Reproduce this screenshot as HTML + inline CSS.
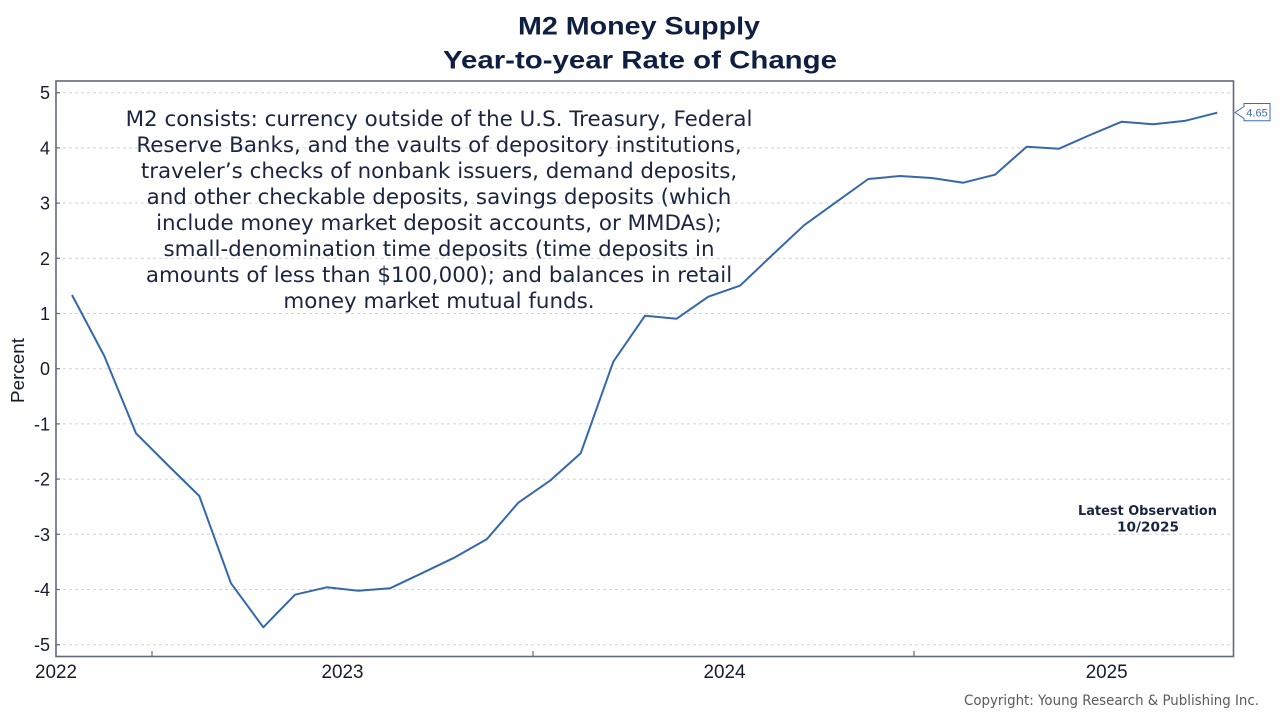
<!DOCTYPE html>
<html>
<head>
<meta charset="utf-8">
<style>
  html, body { margin: 0; padding: 0; background: #ffffff; }
  svg { display: block; }
</style>
</head>
<body>
<svg width="1280" height="720" viewBox="0 0 1280 720" xmlns="http://www.w3.org/2000/svg">
  <rect x="0" y="0" width="1280" height="720" fill="#ffffff"/>

  <!-- Title -->
  <g font-family="'Liberation Sans', Arial, sans-serif" font-weight="bold" fill="#0f1f42" text-anchor="middle">
    <text x="639" y="34.5" font-size="25" textLength="242" lengthAdjust="spacingAndGlyphs">M2 Money Supply</text>
    <text x="640" y="68.5" font-size="25" textLength="394" lengthAdjust="spacingAndGlyphs">Year-to-year Rate of Change</text>
  </g>

  <!-- Gridlines -->
  <g stroke="#d4d4d4" stroke-width="1" stroke-dasharray="3,3">
    <line x1="57" y1="92.7" x2="1233" y2="92.7"/>
    <line x1="57" y1="147.9" x2="1233" y2="147.9"/>
    <line x1="57" y1="203.1" x2="1233" y2="203.1"/>
    <line x1="57" y1="258.3" x2="1233" y2="258.3"/>
    <line x1="57" y1="313.5" x2="1233" y2="313.5"/>
    <line x1="57" y1="368.7" x2="1233" y2="368.7"/>
    <line x1="57" y1="423.9" x2="1233" y2="423.9"/>
    <line x1="57" y1="479.1" x2="1233" y2="479.1"/>
    <line x1="57" y1="534.3" x2="1233" y2="534.3"/>
    <line x1="57" y1="589.5" x2="1233" y2="589.5"/>
    <line x1="57" y1="644.7" x2="1233" y2="644.7"/>
  </g>

  <!-- Y ticks -->
  <g stroke="#5f6b7a" stroke-width="1.2">
    <line x1="56" y1="92.7" x2="60" y2="92.7"/>
    <line x1="56" y1="147.9" x2="60" y2="147.9"/>
    <line x1="56" y1="203.1" x2="60" y2="203.1"/>
    <line x1="56" y1="258.3" x2="60" y2="258.3"/>
    <line x1="56" y1="313.5" x2="60" y2="313.5"/>
    <line x1="56" y1="368.7" x2="60" y2="368.7"/>
    <line x1="56" y1="423.9" x2="60" y2="423.9"/>
    <line x1="56" y1="479.1" x2="60" y2="479.1"/>
    <line x1="56" y1="534.3" x2="60" y2="534.3"/>
    <line x1="56" y1="589.5" x2="60" y2="589.5"/>
    <line x1="56" y1="644.7" x2="60" y2="644.7"/>
    <!-- X ticks -->
    <line x1="152" y1="651" x2="152" y2="656.5"/>
    <line x1="533" y1="651" x2="533" y2="656.5"/>
    <line x1="914" y1="651" x2="914" y2="656.5"/>
  </g>

  <!-- Plot frame -->
  <rect x="56" y="81" width="1177.5" height="575.5" fill="none" stroke="#5f6b7a" stroke-width="1.6"/>

  <!-- Y tick labels -->
  <g font-family="'Liberation Sans', Arial, sans-serif" font-size="18" fill="#151c2c" text-anchor="end">
    <text x="50" y="99.2">5</text>
    <text x="50" y="154.4">4</text>
    <text x="50" y="209.6">3</text>
    <text x="50" y="264.8">2</text>
    <text x="50" y="320">1</text>
    <text x="50" y="375.2">0</text>
    <text x="50" y="430.4">-1</text>
    <text x="50" y="485.6">-2</text>
    <text x="50" y="540.8">-3</text>
    <text x="50" y="596">-4</text>
    <text x="50" y="651.2">-5</text>
  </g>

  <!-- X tick labels -->
  <g font-family="'Liberation Sans', Arial, sans-serif" font-size="19" fill="#151c2c" text-anchor="middle">
    <text x="56" y="678" textLength="42" lengthAdjust="spacingAndGlyphs">2022</text>
    <text x="342.5" y="678" textLength="42" lengthAdjust="spacingAndGlyphs">2023</text>
    <text x="724.5" y="678" textLength="42" lengthAdjust="spacingAndGlyphs">2024</text>
    <text x="1106.7" y="678" textLength="42" lengthAdjust="spacingAndGlyphs">2025</text>
  </g>

  <!-- Y axis title -->
  <text x="0" y="0" transform="translate(24,370.5) rotate(-90)" font-family="'Liberation Sans', Arial, sans-serif" font-size="18" fill="#151c2c" text-anchor="middle" textLength="65" lengthAdjust="spacingAndGlyphs">Percent</text>

  <!-- Annotation -->
  <g font-family="'DejaVu Sans', Verdana, sans-serif" font-size="21.4" fill="#1b2541" text-anchor="middle">
    <text x="439" y="126">M2 consists: currency outside of the U.S. Treasury, Federal</text>
    <text x="439" y="152">Reserve Banks, and the vaults of depository institutions,</text>
    <text x="439" y="178">traveler’s checks of nonbank issuers, demand deposits,</text>
    <text x="439" y="204">and other checkable deposits, savings deposits (which</text>
    <text x="439" y="230">include money market deposit accounts, or MMDAs);</text>
    <text x="439" y="256">small-denomination time deposits (time deposits in</text>
    <text x="439" y="282">amounts of less than $100,000); and balances in retail</text>
    <text x="439" y="308">money market mutual funds.</text>
  </g>

  <!-- Data line -->
  <polyline fill="none" stroke="#3567ae" stroke-width="2" stroke-linejoin="round" points="
    72,295 104.3,356 136,433.3 167.7,465 199.3,496 231,583.3 263.3,627.3 295,594.7
    326.7,587.3 358.3,590.7 390,588.3 421.7,573.3 455,557.3 486.7,539.3 518.3,502.7
    550,480.7 580.7,453.3 613.3,361.7 645,315.7 676.7,318.7 708.3,296.7 740,285.7
    772.3,255 804,225.3 836.7,201.7 868.3,179 900,176 931.7,178 963.3,182.7 995,174.7
    1026.7,146.7 1059,148.7 1090,135 1121.7,121.7 1153.3,124.3 1185.7,120.7 1217.3,112.7"/>

  <!-- Last value label -->
  <path d="M1235,112.5 L1244,106.5 L1244,103.5 L1270,103.5 L1270,120.7 L1244,120.7 L1244,118.5 Z" fill="#ffffff" stroke="#3d6eb4" stroke-width="1"/>
  <text x="1257" y="116.5" font-family="'Liberation Sans', Arial, sans-serif" font-size="11" fill="#3d6eb4" text-anchor="middle">4.65</text>

  <!-- Latest observation -->
  <g font-family="'DejaVu Sans', Verdana, sans-serif" font-weight="bold" font-size="13" fill="#1a2540" text-anchor="middle">
    <text x="1147.5" y="515" textLength="139" lengthAdjust="spacingAndGlyphs">Latest Observation</text>
    <text x="1148" y="531.5" textLength="62" lengthAdjust="spacingAndGlyphs">10/2025</text>
  </g>

  <!-- Copyright -->
  <text x="964" y="705" font-family="'DejaVu Sans', Tahoma, sans-serif" font-size="14" fill="#5a5a5a" textLength="295" lengthAdjust="spacingAndGlyphs">Copyright: Young Research &amp; Publishing Inc.</text>
</svg>
</body>
</html>
